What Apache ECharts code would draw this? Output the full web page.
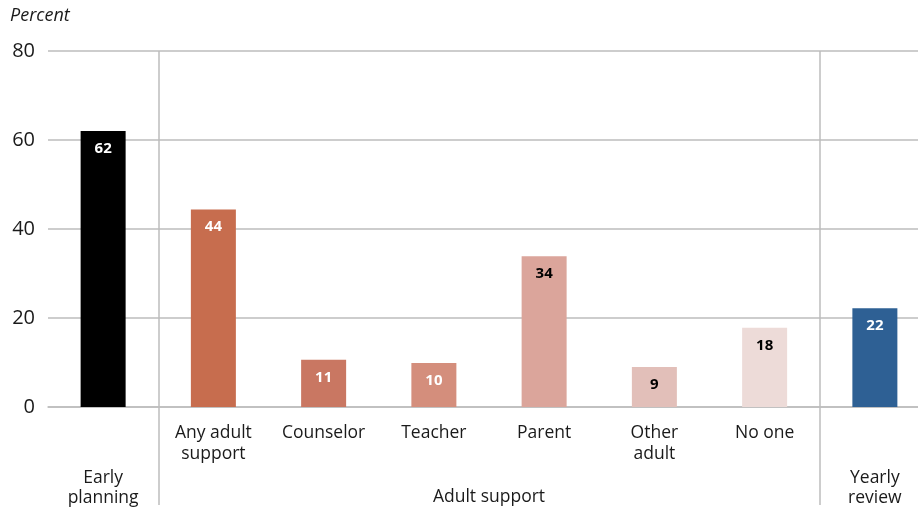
<!DOCTYPE html>
<html><head><meta charset="utf-8">
<script src="https://cdn.jsdelivr.net/npm/echarts@6/dist/echarts.min.js"></script>
<style>html,body{margin:0;padding:0;background:#fff;overflow:hidden;width:918px;height:510px}#c{width:930px;height:510px}</style>
</head><body><div id="c"></div>
<script>
const categories = ['Early planning', 'Any adult\nsupport', 'Counselor', 'Teacher', 'Parent', 'Other\nadult', 'No one', 'Yearly review'];
const axisLabels = ['', 'Any adult\nsupport', 'Counselor', 'Teacher', 'Parent', 'Other\nadult', 'No one', ''];
const values = [62, 44.4, 10.6, 9.9, 33.9, 9, 17.8, 22.2];
const barColors = ['#000000', '#C76D4E', '#C97762', '#D48E7C', '#DBA59B', '#E2BFB9', '#EDDBD8', '#2E6094'];
const labelColors = ['#fff', '#fff', '#fff', '#fff', '#000', '#000', '#000', '#fff'];
const groups = [
  {text: 'Early\nplanning', from: 0, to: 0},
  {text: 'Adult support', from: 1, to: 6},
  {text: 'Yearly\nreview', from: 7, to: 7}
];
const yTicks = [0, 20, 40, 60, 80];
const font = 'Open Sans';
const chart = echarts.init(document.getElementById('c'));
chart.setOption({
  animation: false,
  grid: {left: 48, right: 0, top: 51, bottom: 103, containLabel: false},
  xAxis: {
    type: 'category', data: categories,
    axisLine: {lineStyle: {color: '#bdbdbd', width: 1.5}},
    axisTick: {show: true, length: 98, interval: (i) => i === 1 || i === 7, lineStyle: {color: '#bdbdbd', width: 1.5}},
    splitLine: {show: true, interval: (i) => i === 1 || i === 7, lineStyle: {color: '#bdbdbd', width: 1.5}},
    axisLabel: {formatter: (v, i) => axisLabels[i], interval: 0, color: '#1a1a1a', fontFamily: font, fontSize: 17.5, lineHeight: 21, margin: 16}
  },
  yAxis: {
    type: 'value', min: yTicks[0], max: yTicks[yTicks.length - 1], interval: 20,
    axisLine: {show: false}, axisTick: {show: false},
    splitLine: {lineStyle: {color: '#bdbdbd', width: 1.5}},
    axisLabel: {color: '#1a1a1a', fontFamily: font, fontSize: 20, margin: 13}
  },
  series: [{
    type: 'bar', barWidth: 45,
    data: values.map((v, i) => ({value: v, itemStyle: {color: barColors[i]},
      label: {color: labelColors[i]}})),
    label: {show: true, position: 'insideTop', distance: 10, fontFamily: font, fontWeight: 'bold', fontSize: 15,
      formatter: (p) => Math.round(p.value)}
  }]
});
const g = [{type: 'text', left: 10, top: 7, style: {text: 'Percent', font: 'italic 18px "Open Sans"', fill: '#1a1a1a'}}];
groups.forEach(gr => {
  const x = (chart.convertToPixel({xAxisIndex: 0}, gr.from) + chart.convertToPixel({xAxisIndex: 0}, gr.to)) / 2;
  const multi = gr.text.indexOf('\n') >= 0;
  g.push({type: 'text', x: x, y: multi ? 468 : 487, style: {text: gr.text, font: '17.5px "Open Sans"', fill: '#1a1a1a', align: 'center', lineHeight: 20}});
});
chart.setOption({graphic: g});
</script></body></html>
